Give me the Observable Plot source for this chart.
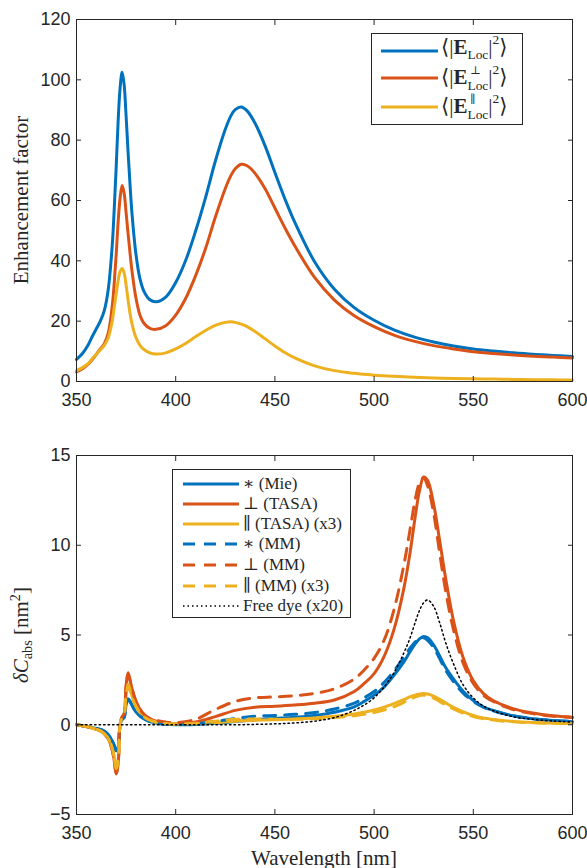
<!DOCTYPE html>
<html><head><meta charset="utf-8">
<script src="https://cdn.jsdelivr.net/npm/d3@7"></script>
<script src="https://cdn.jsdelivr.net/npm/@observablehq/plot@0.6"></script>
<style>
body{margin:0;background:#fff;}
#wrap{position:relative;width:587px;height:868px;overflow:hidden;background:#fff;}
#wrap svg.chart{position:absolute;left:0;}
.lab{position:absolute;font-family:"Liberation Serif","DejaVu Serif",serif;color:#262626;white-space:nowrap;line-height:1;}
.legend{position:absolute;border:1px solid #262626;background:#fff;box-sizing:border-box;}
.ltext{position:absolute;font-family:"Liberation Serif","DejaVu Serif",serif;color:#262626;white-space:nowrap;line-height:1;}
.lsvg{position:absolute;left:0;}
.sm{display:inline-block;position:relative;font-size:0.64em;line-height:0.75;}
.up{position:absolute;left:0.25em;top:-1.3em;line-height:0.75;font-size:0.85em;}
</style></head><body><div id="wrap"></div>
<script>
// ---------- data ----------
const xTicks = [350, 400, 450, 500, 550, 600];
const yTicksTop = [0, 20, 40, 60, 80, 100, 120];
const yTicksBot = [-5, 0, 5, 10, 15];

// top panel: wavelength grid (nm)
const lamTop = [350, 353, 356, 358, 360, 362, 364, 366, 368, 369, 370, 371, 372, 373, 374, 375, 376, 377, 378, 380, 382, 384, 387, 390, 395, 400, 405, 410, 415, 420, 425, 428, 430, 433, 436, 440, 445, 450, 455, 460, 470, 480, 490, 500, 510, 520, 530, 540, 550, 560, 570, 580, 590, 600];
const eTotal = [7.3, 9.3, 12.3, 15, 17.5, 20, 23.5, 30.5, 45, 57, 71, 86.5, 97.5, 102.5, 98.5, 88, 76, 65, 55.5, 42, 34, 29.9, 27.1, 26.4, 28, 32.8, 40.1, 49.8, 60.9, 73.1, 83.6, 88.3, 90.1, 91, 89.7, 85.6, 78.2, 69.3, 60.6, 52.8, 39.7, 30.6, 24.5, 20.3, 17.1, 14.8, 13.1, 11.8, 10.8, 10.1, 9.5, 9.0, 8.65, 8.3];
const ePerp = [3.2, 4.2, 5.8, 7.3, 9, 10.8, 12.5, 16, 25, 32.5, 42, 53, 61, 65, 62.5, 56, 49, 42.5, 36.5, 27.5, 22, 19.3, 17.6, 17.3, 18.5, 22, 27.5, 35, 44, 54.5, 64, 68.5, 70.5, 72, 71.5, 69, 64, 57.5, 51, 45, 34.5, 27, 21.8, 18.2, 15.4, 13.4, 11.9, 10.8, 9.9, 9.3, 8.8, 8.4, 8.1, 7.8];
const ePar = [3.6, 4.6, 6, 7.6, 9, 10.5, 12, 14.5, 20, 24.5, 29, 33.5, 36.5, 37.5, 36, 32, 27, 22.5, 19, 14.5, 12, 10.6, 9.5, 9.1, 9.5, 10.8, 12.6, 14.8, 16.9, 18.6, 19.6, 19.8, 19.6, 19, 18.2, 16.6, 14.2, 11.8, 9.6, 7.8, 5.2, 3.6, 2.7, 2.1, 1.7, 1.4, 1.2, 1.0, 0.9, 0.8, 0.7, 0.6, 0.55, 0.5];

// bottom panel: wavelength grid (nm)
const lamBot = [350, 355, 360, 363, 366, 368, 369, 370, 371, 372, 373, 374, 375, 376, 377, 378, 380, 383, 386, 390, 395, 400, 410, 420, 430, 440, 450, 460, 470, 480, 490, 495, 500, 505, 510, 515, 518, 521, 523, 525, 527, 530, 533, 536, 540, 545, 550, 555, 560, 570, 580, 590, 600];
const mieStar = [0, -0.1, -0.2, -0.3, -0.55, -0.9, -1.15, -1.45, -1.25, 0.0, 0.3, 0.4, 1.1, 1.45, 1.3, 1.1, 0.7, 0.4, 0.22, 0.1, 0.03, 0.0, 0.02, 0.08, 0.18, 0.28, 0.35, 0.42, 0.52, 0.7, 1.0, 1.3, 1.65, 2.1, 2.75, 3.5, 4.05, 4.55, 4.8, 4.92, 4.85, 4.45, 3.85, 3.2, 2.55, 1.85, 1.35, 1.0, 0.8, 0.5, 0.33, 0.23, 0.17];
const tasaPerp = [0, -0.1, -0.25, -0.4, -0.8, -1.4, -2.0, -2.75, -2.2, 0.1, 0.4, 0.6, 2.2, 2.9, 2.5, 2.0, 1.3, 0.7, 0.4, 0.2, 0.08, 0.05, 0.15, 0.45, 0.8, 0.98, 1.03, 1.1, 1.2, 1.38, 1.85, 2.3, 2.85, 3.8, 5.3, 7.6, 9.5, 11.8, 13.1, 13.8, 13.6, 12.3, 10.3, 8.2, 5.8, 3.7, 2.45, 1.75, 1.35, 0.9, 0.65, 0.5, 0.42];
const tasaPar3 = [0, -0.1, -0.25, -0.4, -0.75, -1.3, -1.8, -2.5, -2.0, 0.0, 0.4, 0.55, 1.7, 2.25, 1.95, 1.6, 1.0, 0.55, 0.3, 0.15, 0.07, 0.04, 0.06, 0.12, 0.2, 0.25, 0.28, 0.32, 0.38, 0.47, 0.6, 0.7, 0.82, 0.98, 1.18, 1.4, 1.55, 1.66, 1.72, 1.74, 1.71, 1.6, 1.42, 1.22, 0.97, 0.72, 0.52, 0.38, 0.3, 0.18, 0.12, 0.09, 0.07];
const mmStar = [0, -0.1, -0.2, -0.3, -0.55, -0.9, -1.15, -1.45, -1.25, 0.0, 0.3, 0.4, 1.05, 1.4, 1.28, 1.08, 0.7, 0.4, 0.22, 0.1, 0.04, 0.02, 0.06, 0.18, 0.35, 0.48, 0.52, 0.58, 0.68, 0.88, 1.2, 1.5, 1.85, 2.35, 3.0, 3.75, 4.25, 4.65, 4.8, 4.85, 4.7, 4.3, 3.7, 3.05, 2.4, 1.75, 1.3, 0.98, 0.78, 0.5, 0.34, 0.24, 0.18];
const mmPerp = [0, -0.1, -0.25, -0.4, -0.8, -1.4, -2.0, -2.7, -2.1, 0.1, 0.45, 0.6, 2.1, 2.8, 2.45, 2.0, 1.3, 0.7, 0.4, 0.25, 0.15, 0.12, 0.3, 0.85, 1.3, 1.5, 1.55, 1.62, 1.75, 2.0, 2.55, 3.05, 3.7, 4.7, 6.4, 8.9, 10.8, 12.7, 13.5, 13.75, 13.3, 11.8, 9.6, 7.5, 5.3, 3.4, 2.3, 1.65, 1.3, 0.85, 0.62, 0.48, 0.4];
const mmPar3 = [0, -0.1, -0.25, -0.4, -0.75, -1.3, -1.8, -2.45, -1.95, 0.0, 0.4, 0.55, 1.65, 2.2, 1.9, 1.55, 1.0, 0.55, 0.3, 0.15, 0.07, 0.04, 0.08, 0.2, 0.3, 0.32, 0.3, 0.3, 0.33, 0.4, 0.5, 0.58, 0.68, 0.82, 1.0, 1.25, 1.42, 1.56, 1.63, 1.65, 1.6, 1.48, 1.3, 1.1, 0.88, 0.64, 0.46, 0.34, 0.26, 0.16, 0.11, 0.08, 0.06];
const freeDye20 = [0, 0, 0, 0, 0, 0, 0, 0, 0, 0, 0, 0, 0, 0, 0, 0, 0, 0, 0, 0, 0, 0, 0, 0, 0, 0.02, 0.05, 0.1, 0.2, 0.4, 0.8, 1.1, 1.5, 2.1, 2.9, 4.0, 4.8, 5.8, 6.4, 6.8, 6.95, 6.6, 5.7, 4.6, 3.4, 2.2, 1.5, 1.05, 0.78, 0.45, 0.3, 0.21, 0.15];

// ---------- styles ----------
const BLUE = "#0072BD", ORANGE = "#D95319", YELLOW = "#EDB120", AX = "#262626";
const DASH = "12,9", DOT = "1.5,3";

const topSeries = [
  {v: eTotal, color: BLUE},
  {v: ePerp, color: ORANGE},
  {v: ePar, color: YELLOW}
];
const botSeries = [
  {v: mieStar, color: BLUE, dash: null, w: 3},
  {v: tasaPerp, color: ORANGE, dash: null, w: 3},
  {v: tasaPar3, color: YELLOW, dash: null, w: 3},
  {v: mmStar, color: BLUE, dash: DASH, w: 3},
  {v: mmPerp, color: ORANGE, dash: DASH, w: 3},
  {v: mmPar3, color: YELLOW, dash: DASH, w: 3},
  {v: freeDye20, color: "#000", dash: DOT, w: 1.5}
];

function axesMarks(yTicks) {
  return [
    Plot.frame({stroke: AX, strokeWidth: 1}),
    Plot.axisX(xTicks, {anchor: "bottom", tickSize: -5, fill: null, label: null, stroke: AX}),
    Plot.axisX(xTicks, {anchor: "top", tickSize: -5, fill: null, label: null, stroke: AX}),
    Plot.axisY(yTicks, {anchor: "left", tickSize: -5, fill: null, label: null, stroke: AX}),
    Plot.axisY(yTicks, {anchor: "right", tickSize: -5, fill: null, label: null, stroke: AX}),
    Plot.axisX(xTicks, {anchor: "bottom", tickSize: 0, tickPadding: 12, label: null, fill: AX, stroke: null}),
    Plot.axisY(yTicks, {anchor: "left", tickSize: 0, tickPadding: 6, label: null, fill: AX, stroke: null})
  ];
}

const common = {
  width: 587, height: 434, marginLeft: 76, marginRight: 15,
  style: {fontFamily: "'Liberation Sans', Arial, sans-serif", fontSize: "18px", color: AX, background: "transparent", overflow: "visible"}
};

const topPlot = Plot.plot({
  ...common, marginTop: 19, marginBottom: 53,
  x: {domain: [350, 600], axis: null, label: null},
  y: {domain: [0, 120], axis: null, label: null},
  marks: [
    ...topSeries.map(s => Plot.line(lamTop.map((x, i) => ({x, y: s.v[i]})), {x: "x", y: "y", stroke: s.color, strokeWidth: 3, curve: "catmull-rom"})),
    ...axesMarks(yTicksTop)
  ]
});

const botPlot = Plot.plot({
  ...common, marginTop: 21, marginBottom: 54,
  x: {domain: [350, 600], axis: null, label: null},
  y: {domain: [-5, 15], axis: null, label: null},
  marks: [
    ...botSeries.map(s => Plot.line(lamBot.map((x, i) => ({x, y: s.v[i]})), {x: "x", y: "y", stroke: s.color, strokeWidth: s.w, strokeDasharray: s.dash, curve: "catmull-rom"})),
    ...axesMarks(yTicksBot)
  ]
});

const wrap = document.getElementById("wrap");
topPlot.classList.add("chart"); topPlot.style.top = "0px";
botPlot.classList.add("chart"); botPlot.style.top = "434px";
wrap.appendChild(topPlot);
wrap.appendChild(botPlot);

// ---------- axis labels ----------
function addLabel(html, x, y, size, rotate) {
  const d = document.createElement("div");
  d.className = "lab";
  d.innerHTML = html;
  d.style.fontSize = size + "px";
  d.style.left = x + "px";
  d.style.top = y + "px";
  d.style.transform = rotate ? "translate(-50%,-50%) rotate(-90deg)" : "translate(-50%,-50%)";
  wrap.appendChild(d);
}
addLabel("Enhancement factor", 21, 200, 21, true);
addLabel('<i>δC</i><span style="font-size:0.68em;vertical-align:-0.3em">abs</span> [nm<span style="font-size:0.68em;vertical-align:0.55em">2</span>]', 21, 635, 21, true);
addLabel("Wavelength [nm]", 324, 858, 21, false);

// ---------- legends ----------
function legend(box, rows, lx1, lx2, tx, fontSize) {
  const L = document.createElement("div");
  L.className = "legend";
  Object.assign(L.style, {left: box[0] + "px", top: box[1] + "px", width: box[2] + "px", height: box[3] + "px"});
  rows.forEach(r => {
    const svg = d3.create("svg").attr("class", "lsvg").attr("width", lx2 + 4).attr("height", 20)
      .style("top", (r.cy - 10) + "px");
    svg.append("line").attr("x1", lx1).attr("x2", lx2).attr("y1", 10).attr("y2", 10)
      .attr("stroke", r.color).attr("stroke-width", r.w || 3)
      .attr("stroke-dasharray", r.dash || null);
    L.appendChild(svg.node());
    const t = document.createElement("div");
    t.className = "ltext";
    t.style.fontSize = fontSize + "px";
    t.style.left = tx + "px";
    t.style.top = (r.ty ?? r.cy) + "px";
    t.style.transform = "translateY(-55%)";
    t.innerHTML = r.html;
    L.appendChild(t);
  });
  wrap.appendChild(L);
}
const sub = '<span class="sm" style="vertical-align:-0.35em">Loc</span>';
const stack = s => '<span class="sm" style="vertical-align:-0.45em">Loc<span class="up">' + s + '</span></span>';
const sq = '<span class="sm" style="vertical-align:0.75em">2</span>';
legend([371, 33, 152, 92], [
  {cy: 17, ty: 15, color: BLUE, html: '⟨|<b>E</b>' + sub + '|' + sq + '⟩'},
  {cy: 44, ty: 45, color: ORANGE, html: '⟨|<b>E</b>' + stack('⊥') + '|' + sq + '⟩'},
  {cy: 73, ty: 74, color: YELLOW, html: '⟨|<b>E</b>' + stack('∥') + '|' + sq + '⟩'}
], 9, 66, 69, 21);

legend([172, 469, 179, 149], [
  {cy: 14, color: BLUE, html: '∗ (Mie)'},
  {cy: 34, color: ORANGE, html: '⊥ (TASA)'},
  {cy: 54, color: YELLOW, html: '∥ (TASA) (x3)'},
  {cy: 74, color: BLUE, dash: DASH, html: '∗ (MM)'},
  {cy: 95, color: ORANGE, dash: DASH, html: '⊥ (MM)'},
  {cy: 116, color: YELLOW, dash: DASH, html: '∥ (MM) (x3)'},
  {cy: 136, color: "#000", dash: DOT, w: 1.5, html: 'Free dye (x20)'}
], 10, 66, 70, 17);
</script></body></html>
